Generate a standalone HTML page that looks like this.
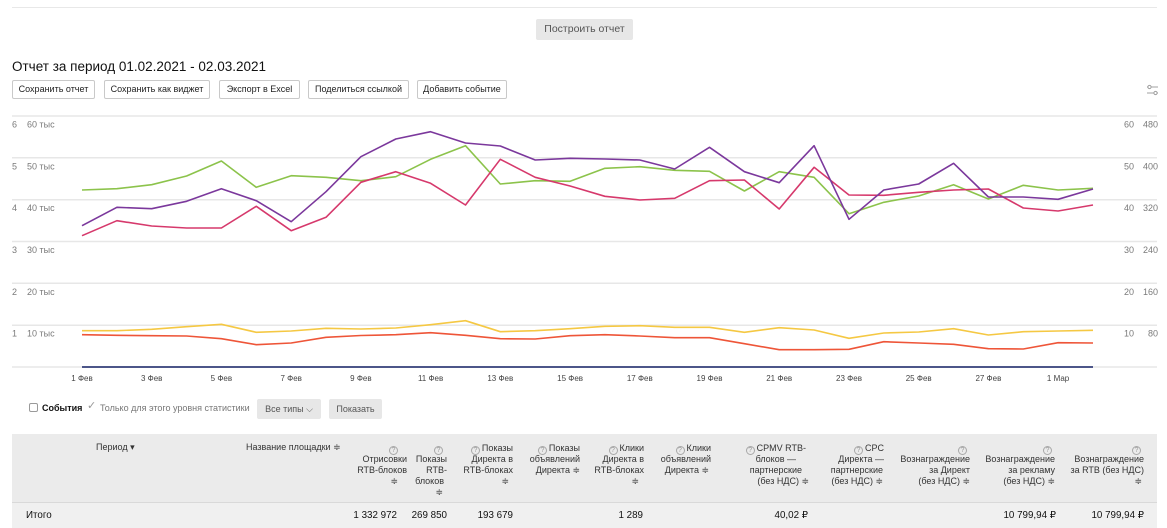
<!DOCTYPE html>
<html><head><meta charset="utf-8">
<style>
*{box-sizing:border-box;margin:0;padding:0}
html,body{width:1167px;height:528px;overflow:hidden;background:#fff}
body{position:relative;font-family:"Liberation Sans","DejaVu Sans",sans-serif;color:#222}
.a{position:absolute;white-space:nowrap}
.btn{position:absolute;top:80px;height:19px;border:1px solid #c9c9c9;border-radius:2px;background:#fff;font-size:9px;line-height:17px;text-align:center;color:#222}
.gbtn{position:absolute;background:#e7e7e7;border-radius:2px;color:#555;text-align:center}
.h{position:absolute;white-space:nowrap;font-size:9px;line-height:11px;color:#333;text-align:right}
.q{display:inline-block;width:9px;height:9px;border:1px solid #a8a8a8;border-radius:50%;font-size:7px;line-height:7px;text-align:center;color:#999;vertical-align:-1px;margin-right:2px}
.v{position:absolute;white-space:nowrap;font-size:9.8px;line-height:12px;color:#111;top:510px}
</style></head><body>

<div class="a" style="left:12px;top:7px;width:1145px;height:1px;background:#e8e8e8"></div>
<div class="gbtn" style="left:536px;top:19px;width:97px;height:21px;font-size:10.5px;line-height:21px">Построить отчет</div>

<div class="a" style="left:12px;top:58px;font-size:13.5px;line-height:18px;color:#111">Отчет за период 01.02.2021 - 02.03.2021</div>

<div class="btn" style="left:12px;width:83px">Сохранить отчет</div>
<div class="btn" style="left:104px;width:106px">Сохранить как виджет</div>
<div class="btn" style="left:219px;width:81px">Экспорт в Excel</div>
<div class="btn" style="left:308px;width:101px">Поделиться ссылкой</div>
<div class="btn" style="left:417px;width:90px">Добавить событие</div>

<svg class="a" style="left:0;top:0" width="1167" height="395" viewBox="0 0 1167 395">
<g stroke="#e7e7e7" stroke-width="1.5">
<line x1="12" y1="116" x2="1157" y2="116"/>
<line x1="12" y1="157.8" x2="1157" y2="157.8"/>
<line x1="12" y1="199.7" x2="1157" y2="199.7"/>
<line x1="12" y1="241.5" x2="1157" y2="241.5"/>
<line x1="12" y1="283.3" x2="1157" y2="283.3"/>
<line x1="12" y1="325.2" x2="1157" y2="325.2"/>
<line x1="12" y1="367" x2="1157" y2="367"/>
</g>
<g font-family="Liberation Sans, sans-serif" font-size="9" fill="#7a7a7a">
<text x="12" y="127.5">6</text><text x="27" y="127.5">60 тыс</text>
<text x="12" y="169.3">5</text><text x="27" y="169.3">50 тыс</text>
<text x="12" y="211.2">4</text><text x="27" y="211.2">40 тыс</text>
<text x="12" y="253">3</text><text x="27" y="253">30 тыс</text>
<text x="12" y="294.8">2</text><text x="27" y="294.8">20 тыс</text>
<text x="12" y="336.7">1</text><text x="27" y="336.7">10 тыс</text>
</g>
<g font-family="Liberation Sans, sans-serif" font-size="9" fill="#7a7a7a" text-anchor="end">
<text x="1134" y="127.5">60</text><text x="1158" y="127.5">480</text>
<text x="1134" y="169.3">50</text><text x="1158" y="169.3">400</text>
<text x="1134" y="211.2">40</text><text x="1158" y="211.2">320</text>
<text x="1134" y="253">30</text><text x="1158" y="253">240</text>
<text x="1134" y="294.8">20</text><text x="1158" y="294.8">160</text>
<text x="1134" y="336.7">10</text><text x="1158" y="336.7">80</text>
</g>
<g stroke="#a0a0a0" stroke-width="1" fill="#fff">
<line x1="1147" y1="87" x2="1158" y2="87"/>
<line x1="1147" y1="93" x2="1158" y2="93"/>
<circle cx="1149.5" cy="87" r="1.6"/>
<circle cx="1155.5" cy="93" r="1.6"/>
</g>
<g fill="none" stroke-width="1.6" stroke-linejoin="round">
<polyline stroke="#f5c843" points="82,330.7 116.9,330.7 151.7,329.3 186.6,326.7 221.4,324.3 256.3,332.3 291.2,331 326,328.3 360.9,329 395.8,328 430.6,324.7 465.5,320.7 500.3,331.7 535.2,330.7 570.1,328.7 604.9,326.3 639.8,325.7 674.7,327.3 709.5,327.3 744.4,332.3 779.2,327.7 814.1,330 849,338.3 883.8,333 918.7,332 953.6,328.7 988.4,335 1023.3,331.7 1058.1,331 1093,330.3"/>
<polyline stroke="#ee5538" points="82,334.7 116.9,335.3 151.7,335.7 186.6,336 221.4,338.7 256.3,344.7 291.2,343 326,337.3 360.9,335.5 395.8,334.7 430.6,332.7 465.5,335.3 500.3,338.7 535.2,339 570.1,335.7 604.9,334.7 639.8,336 674.7,337.7 709.5,337.7 744.4,343.7 779.2,349.7 814.1,349.7 849,349.3 883.8,341.7 918.7,343 953.6,344.3 988.4,348.7 1023.3,349 1058.1,342.7 1093,343"/>
<polyline stroke="#8cc34b" points="82,190 116.9,188.7 151.7,184.7 186.6,176 221.4,161 256.3,187.3 291.2,175.7 326,177.3 360.9,180.7 395.8,176.7 430.6,159.3 465.5,145.7 500.3,184 535.2,180.7 570.1,181.3 604.9,168.3 639.8,166.7 674.7,170.3 709.5,171.3 744.4,191 779.2,171.7 814.1,177.3 849,213.7 883.8,202.3 918.7,196 953.6,184.7 988.4,199 1023.3,185.3 1058.1,190 1093,188.3"/>
<polyline stroke="#d6396c" points="82,235.7 116.9,220.7 151.7,226 186.6,228 221.4,228 256.3,206.3 291.2,230.7 326,217.3 360.9,182.3 395.8,171.7 430.6,183.3 465.5,205 500.3,159.3 535.2,177.3 570.1,186 604.9,196.3 639.8,200 674.7,198.3 709.5,180.7 744.4,180 779.2,209 814.1,167.3 849,195 883.8,195.3 918.7,192.3 953.6,190 988.4,189 1023.3,208 1058.1,211 1093,205"/>
<polyline stroke="#7b389c" points="82,225.7 116.9,207.3 151.7,208.7 186.6,201.3 221.4,188.7 256.3,200.7 291.2,221.7 326,191.7 360.9,156.7 395.8,139 430.6,131.7 465.5,143 500.3,146 535.2,160 570.1,158.3 604.9,159 639.8,160 674.7,169 709.5,147.3 744.4,171.7 779.2,182.7 814.1,145.7 849,219.3 883.8,190 918.7,184 953.6,163.3 988.4,197 1023.3,197 1058.1,199.3 1093,189"/>
<line x1="82" y1="367" x2="1093" y2="367" stroke="#34407a" stroke-width="1.8"/>
</g>
<g font-family="Liberation Sans, sans-serif" font-size="8" fill="#444" text-anchor="middle">
<text x="82" y="381">1 Фев</text>
<text x="151.7" y="381">3 Фев</text>
<text x="221.4" y="381">5 Фев</text>
<text x="291.2" y="381">7 Фев</text>
<text x="360.9" y="381">9 Фев</text>
<text x="430.6" y="381">11 Фев</text>
<text x="500.3" y="381">13 Фев</text>
<text x="570.1" y="381">15 Фев</text>
<text x="639.8" y="381">17 Фев</text>
<text x="709.5" y="381">19 Фев</text>
<text x="779.2" y="381">21 Фев</text>
<text x="849" y="381">23 Фев</text>
<text x="918.7" y="381">25 Фев</text>
<text x="988.4" y="381">27 Фев</text>
<text x="1058.1" y="381">1 Мар</text>
</g>
</svg>

<!-- events row -->
<div class="a" style="left:29px;top:403px;width:9px;height:9px;border:1px solid #9a9a9a;border-radius:2px;background:#fff"></div>
<div class="a" style="left:42px;top:402px;font-size:9px;line-height:12px;font-weight:bold;color:#111">События</div>
<div class="a" style="left:87px;top:399px;font-size:11px;line-height:14px;color:#999">✓</div>
<div class="a" style="left:100px;top:402px;font-size:9px;line-height:12px;color:#777">Только для этого уровня статистики</div>
<div class="gbtn" style="left:257px;top:399px;width:64px;height:20px;font-size:9px;line-height:20px">Все типы ⌵</div>
<div class="gbtn" style="left:329px;top:399px;width:53px;height:20px;font-size:9px;line-height:20px">Показать</div>

<!-- table -->
<div class="a" style="left:12px;top:434px;width:1145px;height:68px;background:#ebebeb"></div>
<div class="a" style="left:12px;top:502px;width:1145px;height:1px;background:#d9d9d9"></div>
<div class="a" style="left:12px;top:503px;width:1145px;height:25px;background:#f0f0f0"></div>

<div class="h" style="left:96px;top:442px">Период ▾</div>
<div class="h" style="left:246px;top:442px">Название площадки ≑</div>

<!-- col1 -->
<div class="h" style="right:767px;top:443px"><span class="q">?</span></div>
<div class="h" style="right:760px;top:454px">Отрисовки</div>
<div class="h" style="right:760px;top:465px">RTB-блоков</div>
<div class="h" style="right:769px;top:476px">≑</div>
<!-- col2 -->
<div class="h" style="right:722px;top:443px"><span class="q">?</span></div>
<div class="h" style="right:720px;top:454px">Показы</div>
<div class="h" style="right:720px;top:465px">RTB-</div>
<div class="h" style="right:723px;top:476px">блоков</div>
<div class="h" style="right:724px;top:487px">≑</div>
<!-- col3 -->
<div class="h" style="right:654px;top:443px"><span class="q">?</span>Показы</div>
<div class="h" style="right:654px;top:454px">Директа в</div>
<div class="h" style="right:654px;top:465px">RTB-блоках</div>
<div class="h" style="right:658px;top:476px">≑</div>
<!-- col4 -->
<div class="h" style="right:587px;top:443px"><span class="q">?</span>Показы</div>
<div class="h" style="right:587px;top:454px">объявлений</div>
<div class="h" style="right:587px;top:465px">Директа ≑</div>
<!-- col5 -->
<div class="h" style="right:523px;top:443px"><span class="q">?</span>Клики</div>
<div class="h" style="right:523px;top:454px">Директа в</div>
<div class="h" style="right:523px;top:465px">RTB-блоках</div>
<div class="h" style="right:528px;top:476px">≑</div>
<!-- col6 -->
<div class="h" style="right:456px;top:443px"><span class="q">?</span>Клики</div>
<div class="h" style="right:456px;top:454px">объявлений</div>
<div class="h" style="right:458px;top:465px">Директа ≑</div>
<!-- col7 -->
<div class="h" style="right:361px;top:443px"><span class="q">?</span>CPMV RTB-</div>
<div class="h" style="right:371px;top:454px">блоков —</div>
<div class="h" style="right:365px;top:465px">партнерские</div>
<div class="h" style="right:358px;top:476px">(без НДС) ≑</div>
<!-- col8 -->
<div class="h" style="right:283px;top:443px"><span class="q">?</span>CPC</div>
<div class="h" style="right:283px;top:454px">Директа —</div>
<div class="h" style="right:284px;top:465px">партнерские</div>
<div class="h" style="right:284px;top:476px">(без НДС) ≑</div>
<!-- col9 -->
<div class="h" style="right:198px;top:443px"><span class="q">?</span></div>
<div class="h" style="right:197px;top:454px">Вознаграждение</div>
<div class="h" style="right:197px;top:465px">за Директ</div>
<div class="h" style="right:197px;top:476px">(без НДС) ≑</div>
<!-- col10 -->
<div class="h" style="right:113px;top:443px"><span class="q">?</span></div>
<div class="h" style="right:112px;top:454px">Вознаграждение</div>
<div class="h" style="right:112px;top:465px">за рекламу</div>
<div class="h" style="right:112px;top:476px">(без НДС) ≑</div>
<!-- col11 -->
<div class="h" style="right:24px;top:443px"><span class="q">?</span></div>
<div class="h" style="right:23px;top:454px">Вознаграждение</div>
<div class="h" style="right:23px;top:465px">за RTB (без НДС)</div>
<div class="h" style="right:25px;top:476px">≑</div>

<!-- totals row -->
<div class="v" style="left:26px">Итого</div>
<div class="v" style="right:770px">1 332 972</div>
<div class="v" style="right:720px">269 850</div>
<div class="v" style="right:654px">193 679</div>
<div class="v" style="right:524px">1 289</div>
<div class="v" style="right:359px">40,02 ₽</div>
<div class="v" style="right:111px">10 799,94 ₽</div>
<div class="v" style="right:23px">10 799,94 ₽</div>

</body></html>
